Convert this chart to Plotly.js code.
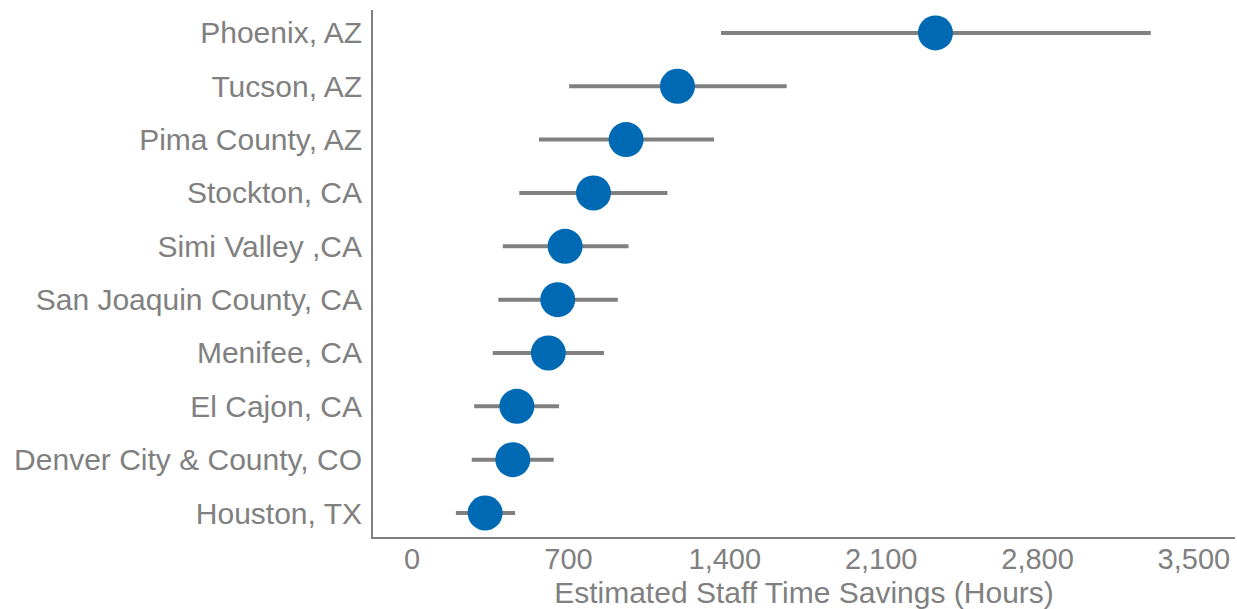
<!DOCTYPE html>
<html>
<head>
<meta charset="utf-8">
<script src="https://cdn.plot.ly/plotly-3.0.1.min.js"></script>
<style>html,body{margin:0;padding:0;background:#fff;}#chart{width:1237px;height:609px;}</style>
</head>
<body>
<div id="chart"></div>
<script>
const places = ["Houston, TX","Denver City & County, CO","El Cajon, CA","Menifee, CA","San Joaquin County, CA","Simi Valley ,CA","Stockton, CA","Pima County, AZ","Tucson, AZ","Phoenix, AZ"];
const estimate = [327, 451, 469, 610, 652, 685, 812, 958, 1188, 2343];
const lower = [196, 267, 278, 361, 386, 406, 480, 568, 703, 1383];
const upper = [461, 634, 658, 859, 921, 969, 1143, 1352, 1677, 3307];
const xTicks = [0, 700, 1400, 2100, 2800, 3500];
const xTickText = ["0", "700", "1,400", "2,100", "2,800", "3,500"];

const plus = estimate.map((v, i) => upper[i] - v);
const minus = estimate.map((v, i) => v - lower[i]);

const font = "Liberation Sans, Arial, Helvetica, sans-serif";
const grey = "#808080";

Plotly.newPlot("chart", [{
  type: "scatter",
  mode: "markers",
  x: estimate,
  y: places,
  marker: {size: 35, color: "#0069b4"},
  error_x: {type: "data", symmetric: false, array: plus, arrayminus: minus, color: grey, thickness: 4, width: 0},
  hoverinfo: "x+y"
}], {
  width: 1237, height: 609,
  margin: {l: 373, r: 2, t: 10, b: 72},
  paper_bgcolor: "#fff", plot_bgcolor: "#fff",
  showlegend: false,
  font: {family: font, color: grey, size: 30},
  xaxis: {
    range: [-175, 3684],
    tickvals: xTicks, ticktext: xTickText,
    showgrid: false, zeroline: false,
    showline: true, linecolor: grey, linewidth: 2,
    ticks: "", ticklabelstandoff: -5,
    tickfont: {size: 29, color: grey, family: font},
    title: {text: "Estimated Staff Time Savings (Hours)", font: {size: 30, color: grey, family: font}, standoff: 10}
  },
  yaxis: {
    type: "category",
    categoryorder: "array", categoryarray: places,
    range: [-0.45, 9.43],
    showgrid: false, zeroline: false,
    showline: true, linecolor: grey, linewidth: 2,
    ticks: "", ticklabelstandoff: 3,
    tickfont: {size: 30, color: grey, family: font}
  }
}, {displayModeBar: false, staticPlot: true});
</script>
</body>
</html>
